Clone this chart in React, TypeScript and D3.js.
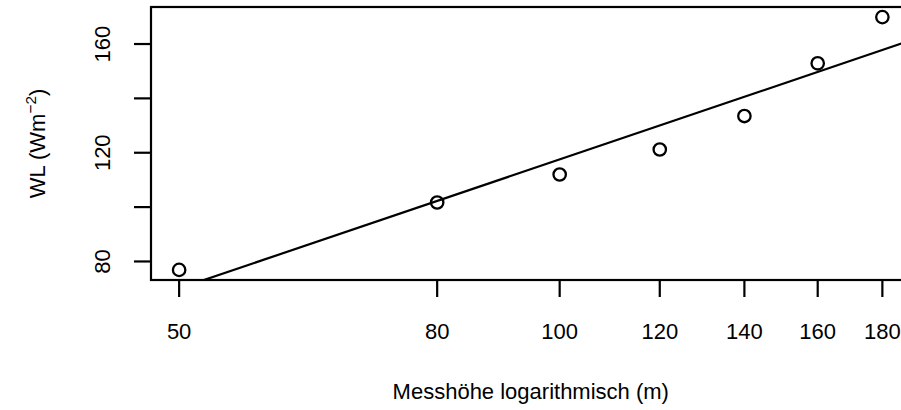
import React from "react";
import * as d3 from "d3";

const heights = [50, 80, 100, 120, 140, 160, 180];
const wl = [76.9, 101.7, 112.0, 121.2, 133.5, 152.9, 169.9];
const xTicks = [50, 80, 100, 120, 140, 160, 180];
const yTicks = [80, 100, 120, 140, 160];
const yLabels = [80, 120, 160];

const W = 901;
const H = 410;
const FONT = "'Liberation Sans', Arial, Helvetica, sans-serif";
const FS = 22;

export default function App() {
  const lnx = heights.map((h) => Math.log(h));
  const lnExt = d3.extent(lnx) as [number, number];
  const lnPad = (lnExt[1] - lnExt[0]) * 0.04;
  const yExt = d3.extent(wl) as [number, number];
  const yPad = (yExt[1] - yExt[0]) * 0.04;

  const left = 151;
  const right = 910.5;
  const top = 7;
  const bottom = 280;

  const x = d3
    .scaleLog()
    .domain([Math.exp(lnExt[0] - lnPad), Math.exp(lnExt[1] + lnPad)])
    .range([left, right]);
  const y = d3
    .scaleLinear()
    .domain([yExt[0] - yPad, yExt[1] + yPad])
    .range([bottom, top]);

  // least squares fit WL ~ ln(height)
  const mx = d3.mean(lnx)!;
  const my = d3.mean(wl)!;
  let sxy = 0;
  let sxx = 0;
  lnx.forEach((v, i) => {
    sxy += (v - mx) * (wl[i] - my);
    sxx += (v - mx) * (v - mx);
  });
  const b = sxy / sxx;
  const a = my - b * mx;
  const [d0, d1] = x.domain();
  const fitLine = d3.line<number>()
    .x((h) => x(h))
    .y((h) => y(a + b * Math.log(h)))([d0, d1]);

  const tickLen = 17;

  return (
    <svg
      width={W}
      height={H}
      style={{ position: "absolute", left: 0, top: 0, background: "#fff" }}
      fontFamily={FONT}
      fontSize={FS}
    >
      <defs>
        <clipPath id="plotClip">
          <rect x={left} y={top} width={right - left} height={bottom - top} />
        </clipPath>
      </defs>
      <rect width={W} height={H} fill="#fff" />
      {/* fit line */}
      <path d={fitLine || ""} fill="none" stroke="#000" strokeWidth={2.2} clipPath="url(#plotClip)" />
      {/* points */}
      {heights.map((h, i) => (
        <circle key={h} cx={x(h)} cy={y(wl[i])} r={6.2} fill="none" stroke="#000" strokeWidth={2.3} />
      ))}
      {/* box */}
      <rect x={left} y={top} width={right - left} height={bottom - top} fill="none" stroke="#000" strokeWidth={2.2} />
      {/* x axis */}
      {xTicks.map((t) => (
        <g key={t}>
          <line x1={x(t)} x2={x(t)} y1={bottom} y2={bottom + tickLen} stroke="#000" strokeWidth={2.2} />
          <text x={x(t)} y={339} textAnchor="middle">{t}</text>
        </g>
      ))}
      {/* y axis */}
      {yTicks.map((t) => (
        <line key={t} x1={left} x2={left - tickLen} y1={y(t)} y2={y(t)} stroke="#000" strokeWidth={2.2} />
      ))}
      {yLabels.map((t) => (
        <text key={t} transform={`translate(110,${y(t)}) rotate(-90)`} textAnchor="middle">{t}</text>
      ))}
      <text x={(left + right) / 2} y={399} textAnchor="middle">Messhöhe logarithmisch (m)</text>
      <text transform={`translate(45,${(top + bottom) / 2}) rotate(-90)`} textAnchor="middle">
        WL (Wm
        <tspan fontSize={FS * 0.7} dy={-9}>−2</tspan>
        <tspan dy={9}>)</tspan>
      </text>
    </svg>
  );
}
